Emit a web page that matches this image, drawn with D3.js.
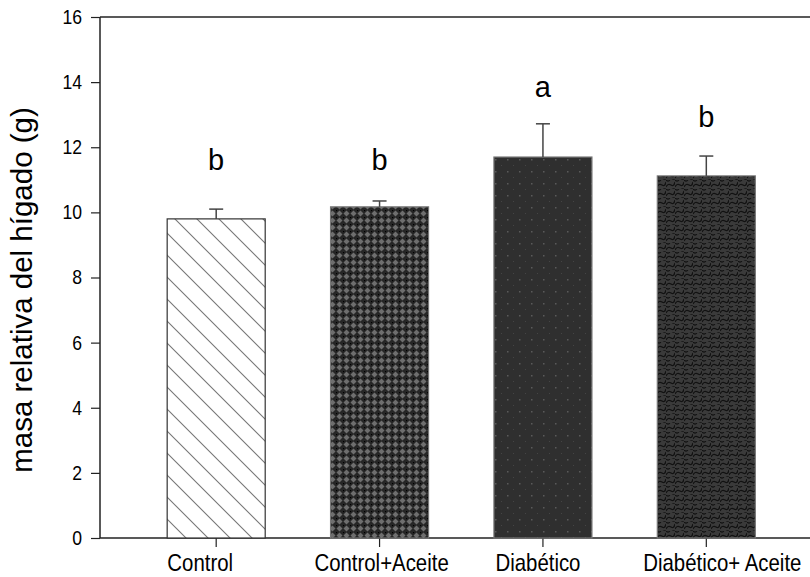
<!DOCTYPE html>
<html>
<head>
<meta charset="utf-8">
<script src="https://cdn.jsdelivr.net/npm/d3@7"></script>
<style>
  html, body { margin: 0; padding: 0; background: #fff; }
  svg { display: block; font-family: "Liberation Sans", Arial, sans-serif; }
</style>
</head>
<body>
<svg id="chart" width="810" height="577"></svg>
<script>
// ---------- Data ----------
const groups   = ["Control", "Control+Aceite", "Diabético", "Diabético+ Aceite"];
const means    = [9.80, 10.17, 11.70, 11.12];
const errors   = [0.30, 0.18, 1.02, 0.61];
const letters  = ["b", "b", "a", "b"];
const letterAt = [11.3, 11.3, 13.55, 12.62];   // baseline of the significance letter, in y units
const yTicks   = [0, 2, 4, 6, 8, 10, 12, 14, 16];
const fills    = ["url(#pHatch)", "url(#pCross)", "url(#pDots)", "url(#pWeave)"];

// category labels are not quite centred under their ticks in the original
const labelShift = { "Control": -16, "Control+Aceite": 2, "Diabético": -5, "Diabético+ Aceite": 16 };

// ---------- Layout ----------
const svg = d3.select("#chart");
const W = 810, H = 577;
const M = { t: 17, r: 0, b: 39, l: 100 };
const y = d3.scaleLinear().domain([0, 16]).range([H - M.b, M.t]);
const x = d3.scaleBand().domain(groups).range([134.5, 788]).paddingInner(0.4).paddingOuter(0.2);

// ---------- Patterns ----------
const defs = svg.append("defs");

// diagonal lines (Control)
const p1 = defs.append("pattern").attr("id", "pHatch").attr("patternUnits", "userSpaceOnUse")
  .attr("width", 22).attr("height", 22);
p1.append("rect").attr("width", 22).attr("height", 22).attr("fill", "#fff");
p1.append("path").attr("d", "M0,0L22,22M-11,11L11,33M11,-11L33,11")
  .attr("stroke", "#777").attr("stroke-width", 1.1);

// cross-hatch diamonds (Control+Aceite)
const p2 = defs.append("pattern").attr("id", "pCross").attr("patternUnits", "userSpaceOnUse")
  .attr("width", 7).attr("height", 7);
p2.append("rect").attr("width", 7).attr("height", 7).attr("fill", "#262626");
p2.append("path").attr("d", "M3.5,0.5L6.5,3.5L3.5,6.5L0.5,3.5Z").attr("fill", "#6e6e6e");
p2.append("rect").attr("x", 0).attr("y", 0).attr("width", 1.2).attr("height", 1.2).attr("fill", "#000");

// sparse dots (Diabético)
const p3 = defs.append("pattern").attr("id", "pDots").attr("patternUnits", "userSpaceOnUse")
  .attr("width", 12).attr("height", 12);
p3.append("rect").attr("width", 12).attr("height", 12).attr("fill", "#2f2f2f");
p3.append("rect").attr("x", 3).attr("y", 3).attr("width", 1.5).attr("height", 1.5).attr("fill", "#5a5a5a");
p3.append("rect").attr("x", 9).attr("y", 9).attr("width", 1).attr("height", 1).attr("fill", "#454545");

// weave (Diabético+ Aceite)
const p4 = defs.append("pattern").attr("id", "pWeave").attr("patternUnits", "userSpaceOnUse")
  .attr("width", 9).attr("height", 9);
p4.append("rect").attr("width", 9).attr("height", 9).attr("fill", "#3a3a3a");
p4.append("path").attr("d", "M0,7 Q2,3 5,5 T9,2 M-4.5,2.5 Q-2.5,-1.5 0.5,0.5 T4.5,-2.5 M4.5,11.5 Q6.5,7.5 9.5,9.5 T13.5,6.5")
  .attr("fill", "none").attr("stroke", "#111").attr("stroke-width", 1.3);

// ---------- Frame / axes ----------
const g = svg.append("g");
[16, 0].forEach(v => g.append("line")
  .attr("x1", M.l).attr("x2", W).attr("y1", y(v)).attr("y2", y(v))
  .attr("stroke", "#222").attr("stroke-width", 1.5));
g.append("line").attr("x1", M.l).attr("x2", M.l).attr("y1", y(0)).attr("y2", y(16))
  .attr("stroke", "#222").attr("stroke-width", 1.5);

const ya = g.append("g").attr("transform", `translate(${M.l},0)`)
  .call(d3.axisLeft(y).tickValues(yTicks).tickSize(9).tickPadding(9));
ya.select(".domain").remove();
ya.selectAll(".tick line").attr("stroke", "#222").attr("stroke-width", 1.2);
ya.selectAll(".tick text").attr("font-size", 20).attr("fill", "#000")
  .attr("font-family", "Liberation Sans, Arial, sans-serif")
  .attr("x", 0).attr("transform", "translate(-18,0) scale(0.88,1)");

const xa = g.append("g").attr("transform", `translate(0,${y(0)})`)
  .call(d3.axisBottom(x).tickSize(9).tickPadding(7));
xa.select(".domain").remove();
xa.selectAll(".tick line").attr("stroke", "#222").attr("stroke-width", 1.2);
xa.selectAll(".tick text").attr("font-size", 24).attr("fill", "#000")
  .attr("font-family", "Liberation Sans, Arial, sans-serif")
  .attr("x", 0)
  .attr("transform", d => `translate(${labelShift[d]},0) scale(0.85,1)`);

svg.append("text")
  .attr("transform", "translate(32,290) rotate(-90)")
  .attr("text-anchor", "middle")
  .attr("font-size", 29.5)
  .text("masa relativa del hígado (g)");

// ---------- Bars ----------
const bars = svg.append("g").selectAll("g").data(groups).join("g");
bars.append("rect")
  .attr("x", d => x(d))
  .attr("width", x.bandwidth())
  .attr("y", (d, i) => y(means[i]))
  .attr("height", (d, i) => y(0) - y(means[i]))
  .attr("fill", (d, i) => fills[i])
  .attr("stroke", (d, i) => i === 0 ? "#333" : "#777")
  .attr("stroke-width", 1.2);

// error bars (upper only)
bars.append("line")
  .attr("x1", d => x(d) + x.bandwidth() / 2).attr("x2", d => x(d) + x.bandwidth() / 2)
  .attr("y1", (d, i) => y(means[i])).attr("y2", (d, i) => y(means[i] + errors[i]))
  .attr("stroke", "#444").attr("stroke-width", 1.5);
bars.append("line")
  .attr("x1", d => x(d) + x.bandwidth() / 2 - 7).attr("x2", d => x(d) + x.bandwidth() / 2 + 7)
  .attr("y1", (d, i) => y(means[i] + errors[i])).attr("y2", (d, i) => y(means[i] + errors[i]))
  .attr("stroke", "#444").attr("stroke-width", 1.5);

// significance letters
bars.append("text")
  .attr("x", d => x(d) + x.bandwidth() / 2)
  .attr("y", (d, i) => y(letterAt[i]))
  .attr("text-anchor", "middle")
  .attr("font-size", 29)
  .text((d, i) => letters[i]);
</script>
</body>
</html>
